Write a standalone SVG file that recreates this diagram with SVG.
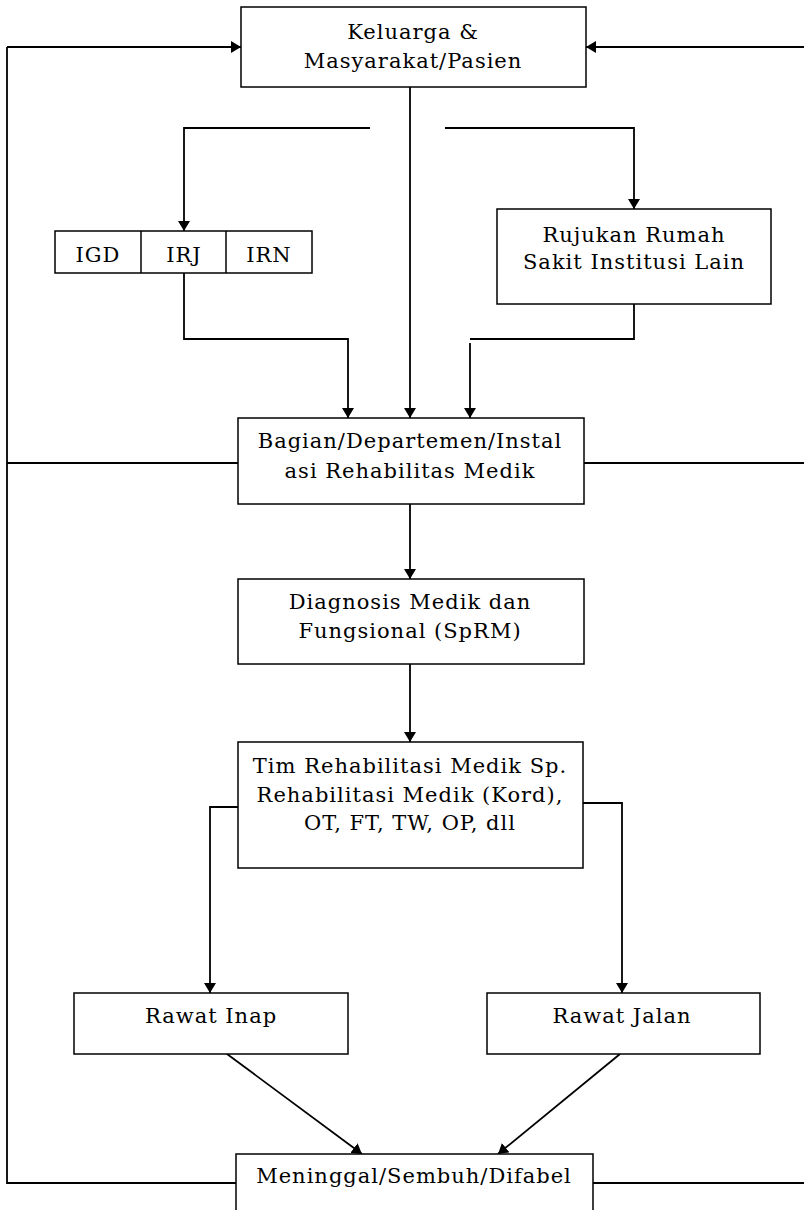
<svg xmlns="http://www.w3.org/2000/svg" width="804" height="1210" viewBox="0 0 804 1210">
<style>
.box{fill:#fff;stroke:#000;stroke-width:1.5}
.ln{fill:none;stroke:#000;stroke-width:1.8}
text{font-family:"DejaVu Serif","Liberation Serif",serif;font-size:21px;letter-spacing:1px;fill:#000;text-anchor:middle}
</style>
<defs>
<marker id="ah" markerWidth="10" markerHeight="12" refX="10" refY="6" orient="auto" markerUnits="userSpaceOnUse">
<path d="M0,0 L10,6 L0,12 Z" fill="#000"/>
</marker>
</defs>
<rect width="804" height="1210" fill="#fff"/>
<g id="connectors">
<path class="ln" d="M804,47 H586" marker-end="url(#ah)"/>
<path class="ln" d="M7,47 H241" marker-end="url(#ah)"/>
<path class="ln" d="M7,47 V1183 H236"/>
<path class="ln" d="M7,463 H238"/>
<path class="ln" d="M584,463 H804"/>
<path class="ln" d="M593,1183 H804"/>
<path class="ln" d="M410,87 V418" marker-end="url(#ah)"/>
<path class="ln" d="M370,128 H184 V231" marker-end="url(#ah)"/>
<path class="ln" d="M445,128 H634 V209" marker-end="url(#ah)"/>
<path class="ln" d="M184,273 V339 H348 V418" marker-end="url(#ah)"/>
<path class="ln" d="M634,304 V339 H470"/>
<path class="ln" d="M470,343 V418" marker-end="url(#ah)"/>
<path class="ln" d="M410,504 V579" marker-end="url(#ah)"/>
<path class="ln" d="M410,664 V742" marker-end="url(#ah)"/>
<path class="ln" d="M238,807 H210 V993" marker-end="url(#ah)"/>
<path class="ln" d="M583,803 H622 V993" marker-end="url(#ah)"/>
<path class="ln" d="M227,1054 L362,1154" marker-end="url(#ah)"/>
<path class="ln" d="M620,1054 L498,1154" marker-end="url(#ah)"/>
</g>
<g id="keluarga">
<rect class="box" x="241" y="7" width="345" height="80"/>
<text x="413" y="39">Keluarga &amp;</text>
<text x="413" y="68">Masyarakat/Pasien</text>
</g>
<g id="igd-irj-irn">
<rect class="box" x="55" y="231" width="257" height="42"/>
<line class="box" x1="141" y1="231" x2="141" y2="273"/>
<line class="box" x1="226" y1="231" x2="226" y2="273"/>
<text x="98" y="262">IGD</text>
<text x="184" y="262">IRJ</text>
<text x="269" y="262">IRN</text>
</g>
<g id="rujukan">
<rect class="box" x="497" y="209" width="274" height="95"/>
<text x="634" y="242">Rujukan Rumah</text>
<text x="634" y="269">Sakit Institusi Lain</text>
</g>
<g id="bagian">
<rect class="box" x="238" y="418" width="346" height="86"/>
<text x="410" y="448">Bagian/Departemen/Instal</text>
<text x="410" y="478">asi Rehabilitas Medik</text>
</g>
<g id="diagnosis">
<rect class="box" x="238" y="579" width="346" height="85"/>
<text x="410" y="609">Diagnosis Medik dan</text>
<text x="410" y="638">Fungsional (SpRM)</text>
</g>
<g id="tim">
<rect class="box" x="238" y="742" width="345" height="126"/>
<text x="410" y="773">Tim Rehabilitasi Medik Sp.</text>
<text x="410" y="802">Rehabilitasi Medik (Kord),</text>
<text x="410" y="830">OT, FT, TW, OP, dll</text>
</g>
<g id="rawat-inap">
<rect class="box" x="74" y="993" width="274" height="61"/>
<text x="211" y="1023">Rawat Inap</text>
</g>
<g id="rawat-jalan">
<rect class="box" x="487" y="993" width="273" height="61"/>
<text x="622" y="1023">Rawat Jalan</text>
</g>
<g id="hasil">
<path class="box" d="M236,1212 V1154 H593 V1212"/>
<text x="414" y="1183">Meninggal/Sembuh/Difabel</text>
</g>
</svg>
